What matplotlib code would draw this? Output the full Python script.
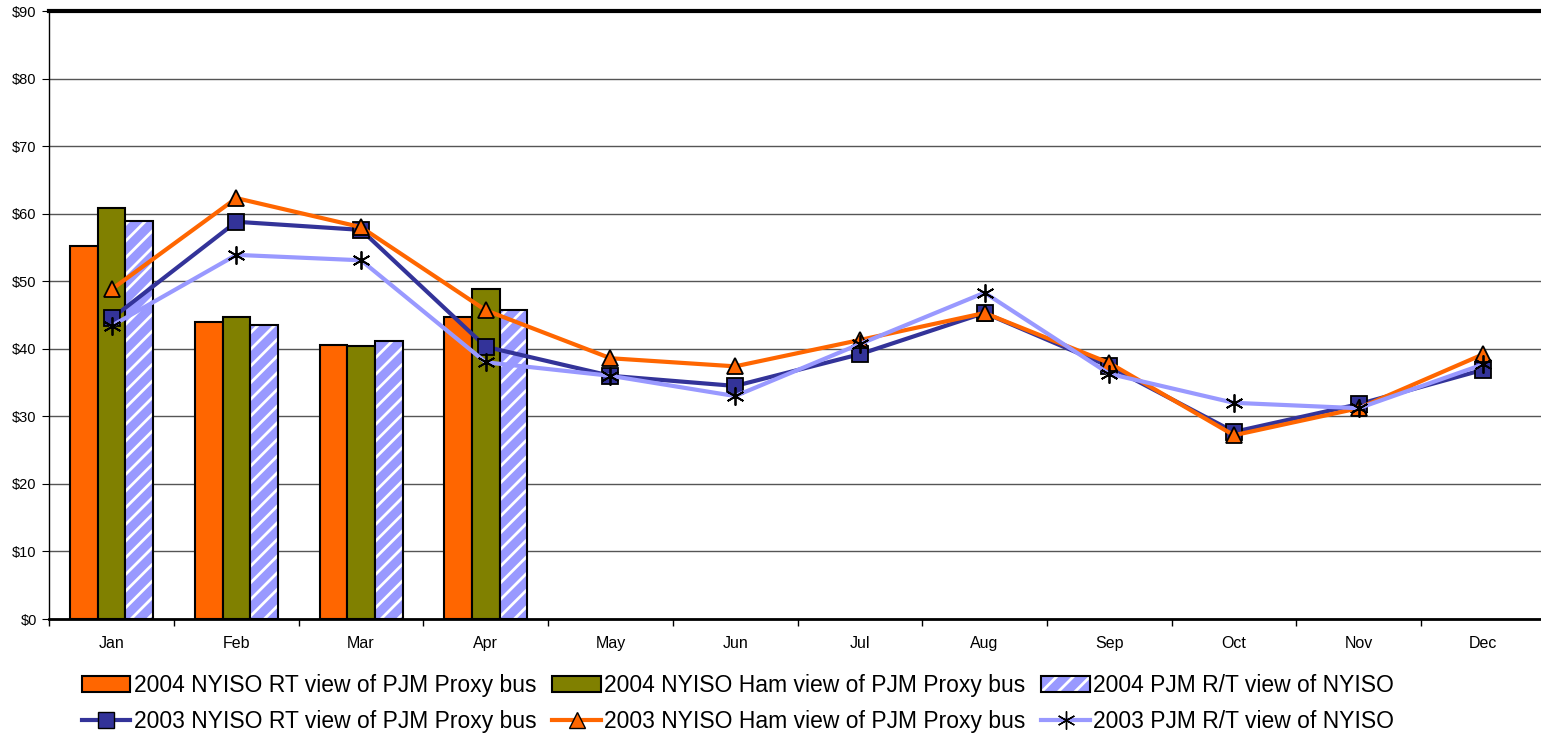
import numpy as np
import matplotlib
matplotlib.use("Agg")
import matplotlib.pyplot as plt
from matplotlib.patches import Patch
from matplotlib.lines import Line2D
from matplotlib.legend_handler import HandlerTuple

# =====================================================
# Data
# =====================================================

months = ["Jan", "Feb", "Mar", "Apr", "May", "Jun",
          "Jul", "Aug", "Sep", "Oct", "Nov", "Dec"]

# 2004 bars (only Jan-Apr available)
rt_2004 = [55.2, 44.0, 40.6, 44.7]
ham_2004 = [60.8, 44.7, 40.4, 48.8]
pjm_2004 = [58.9, 43.5, 41.1, 45.7]

# 2003 lines
rt_2003 = [44.5, 58.8, 57.6, 40.3, 36.0, 34.5, 39.2, 45.3, 37.4, 27.7, 31.8, 36.9]
ham_2003 = [48.8, 62.3, 58.0, 45.7, 38.6, 37.4, 41.3, 45.3, 37.9, 27.2, 31.2, 39.2]
pjm_2003 = [43.4, 53.9, 53.1, 38.0, 36.0, 33.0, 40.7, 48.3, 36.3, 32.0, 31.2, 37.7]

labels_bar = ["2004 NYISO RT view of PJM Proxy bus",
              "2004 NYISO Ham view of PJM Proxy bus",
              "2004 PJM R/T view of NYISO"]
labels_line = ["2003 NYISO RT view of PJM Proxy bus",
               "2003 NYISO Ham view of PJM Proxy bus",
               "2003 PJM R/T view of NYISO"]

ORANGE = "#FF6600"
OLIVE = "#808000"
LAV = "#9999FF"
NAVY = "#333399"

plt.rcParams["font.family"] = ["Liberation Sans", "DejaVu Sans"]
plt.rcParams["hatch.linewidth"] = 2.0

# =====================================================
# Plot
# =====================================================

W, H = 1541, 746
fig = plt.figure(figsize=(W / 100, H / 100), dpi=100)
x0, x1 = 49.3, 1545.7
y0, y1 = 619, 11
ax = fig.add_axes([x0 / W, 1 - y0 / H, (x1 - x0) / W, (y0 - y1) / H])

x = np.arange(len(months))
xb = np.arange(len(rt_2004))
bw = 0.222

ax.bar(xb - bw, rt_2004, bw, color=ORANGE, edgecolor="black", linewidth=1.5, zorder=2)
ax.bar(xb, ham_2004, bw, color=OLIVE, edgecolor="black", linewidth=1.5, zorder=2)
ax.bar(xb + bw, pjm_2004, bw, color=LAV, edgecolor="white", hatch="//",
       linewidth=0, zorder=2)
ax.bar(xb + bw, pjm_2004, bw, fill=False, edgecolor="black", linewidth=1.5, zorder=2)

ax.plot(x, rt_2003, color=NAVY, lw=3, marker="s", ms=11, mfc=NAVY,
        mec="black", mew=1.3, zorder=3)
ax.plot(x, ham_2003, color=ORANGE, lw=3, marker="^", ms=12, mfc=ORANGE,
        mec="black", mew=1.3, zorder=4)
ax.plot(x, pjm_2003, color=LAV, lw=3, marker=(6, 2, 0), ms=13, mfc="black",
        mec="black", mew=1.3, zorder=5)

ax.set_xlim(-0.5, 11.5)
ax.set_ylim(0, 90)
ax.set_yticks(np.arange(0, 91, 10))
ax.set_yticklabels([f"${v}" for v in range(0, 91, 10)], fontsize=10.5)
ax.yaxis.grid(True, color="#555555", lw=1)
ax.set_axisbelow(True)

ax.set_xticks(x)
ax.set_xticklabels(months, fontsize=11.5)
ax.set_xticks(np.arange(-0.5, 12, 1), minor=True)
ax.tick_params(axis="x", which="major", length=0, pad=12)
ax.tick_params(axis="x", which="minor", length=5, direction="out", width=1)
ax.tick_params(axis="y", length=5, direction="out", pad=4)

ax.spines["top"].set_linewidth(3)
ax.spines["bottom"].set_linewidth(2)
ax.spines["left"].set_linewidth(1)
ax.spines["right"].set_visible(False)

# =====================================================
# Legend
# =====================================================

h_rt = Patch(facecolor=ORANGE, edgecolor="black", linewidth=1.5)
h_ham = Patch(facecolor=OLIVE, edgecolor="black", linewidth=1.5)
h_pjm = (Patch(facecolor=LAV, edgecolor="white", hatch="//", linewidth=0),
         Patch(fill=False, edgecolor="black", linewidth=1.5))
l_rt = Line2D([], [], color=NAVY, lw=3, marker="s", ms=11, mfc=NAVY, mec="black")
l_ham = Line2D([], [], color=ORANGE, lw=3, marker="^", ms=12, mfc=ORANGE, mec="black")
l_pjm = Line2D([], [], color=LAV, lw=3, marker=(6, 2, 0), ms=13, mec="black")

handles = [h_rt, l_rt, h_ham, l_ham, h_pjm, l_pjm]
labels = [labels_bar[0], labels_line[0], labels_bar[1], labels_line[1],
          labels_bar[2], labels_line[2]]

fig.legend(handles, labels, ncol=3, loc="center", bbox_to_anchor=(0.479, 0.057),
           frameon=False, fontsize=16.5, handlelength=2.1, handletextpad=0.15,
           columnspacing=0.7, labelspacing=0.6,
           handler_map={tuple: HandlerTuple(ndivide=1)})

fig.savefig("out.png", dpi=100)
